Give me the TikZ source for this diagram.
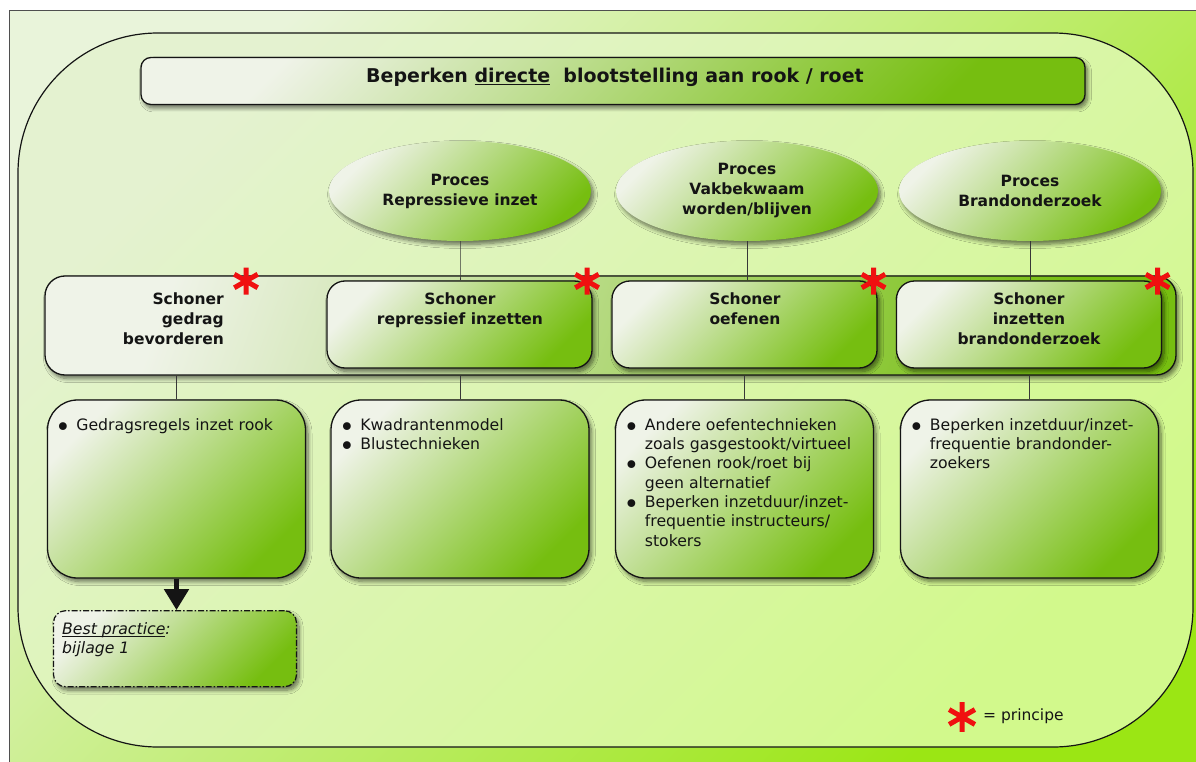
\documentclass[tikz,border=0pt]{standalone}
\usepackage{fontspec}
\setmainfont{DejaVu Sans}
\usetikzlibrary{shapes.geometric,shadows,shadows.blur,arrows.meta}
\definecolor{outerTL}{HTML}{E9F4DA}
\definecolor{outerBR}{HTML}{9BE614}
\definecolor{innerTL}{HTML}{E4F2D0}
\definecolor{innerBR}{HTML}{D2F98C}
\definecolor{boxTL}{HTML}{EFF3E8}
\definecolor{boxBR}{HTML}{76BE10}
\definecolor{ink}{HTML}{141414}
\definecolor{starred}{HTML}{F01010}
\newcommand\boldtxt{\fontsize{15.5}{20}\selectfont\bfseries}
\newcommand\bodytxt{\fontsize{15.7}{19.3}\selectfont}
\newcommand\bulmark{\smash{\raisebox{-6pt}{\scalebox{1.7}{\textbullet}}}}
\newcommand\ulpiece[1]{\setbox0=\hbox{#1}\rlap{\rule[-2.6pt]{\wd0}{0.8pt}}\box0}
\tikzset{
  boxgrad/.style={top color=boxTL, bottom color=boxBR, shading angle=45},
  boxshadow/.style={blur shadow={shadow xshift=2.5pt, shadow yshift=-3.5pt, shadow blur radius=4pt, shadow blur steps=8, shadow opacity=55}},
  boxedge/.style={draw=ink, line width=1.3pt},
  titlebox/.style={boxgrad, boxshadow, boxedge, rounded corners=10pt, minimum width=944pt, minimum height=47pt, inner sep=0pt},
  titletext/.style={font=\fontsize{19}{23}\selectfont\bfseries, text=ink, inner sep=0pt, anchor=base},
  procell/.style={ellipse, boxgrad, boxshadow, minimum width=262pt, minimum height=100pt, inner sep=0pt, align=center, font=\boldtxt, text=ink},
  bandbox/.style={boxgrad, shading angle=70, boxshadow, boxedge, rounded corners=20pt, minimum width=1131pt, minimum height=99pt, inner sep=0pt},
  schbox/.style={boxgrad, boxshadow, boxedge, rounded corners=18pt, minimum width=265pt, minimum height=87pt, inner sep=0pt},
  contentbox/.style={boxgrad, boxshadow, boxedge, rounded corners=30pt, minimum width=258pt, minimum height=178pt, inner sep=0pt},
  bpbox/.style={boxgrad, boxshadow, draw=ink, line width=1.2pt, dash pattern=on 6pt off 2pt on 1.5pt off 2pt, rounded corners=12pt, minimum width=243pt, minimum height=76pt, inner sep=0pt},
  boldlabel/.style={font=\boldtxt, text=ink, inner sep=0pt},
  listlabel/.style={font=\bodytxt, text=ink, inner sep=0pt, anchor=north west},
  link/.style={draw=ink!85, line width=0.9pt},
  principestar/.pic={\draw[starred, line width=5pt] (0,-13.5)--(0,13.5) (-11.7,-6.75)--(11.7,6.75) (-11.7,6.75)--(11.7,-6.75);}
}
\begin{document}
\begin{tikzpicture}[x=1pt,y=-1pt]
\useasboundingbox (0,0) rectangle (1196,762);
\fill[white] (0,0) rectangle (1196,762);
\shade[top color=outerTL, bottom color=outerBR, shading angle=45] (9,11) rectangle (1196,762);
\draw[ink!75, line width=1pt] (9,762) -- (9,11) -- (1196,11);
\shadedraw[top color=innerTL, bottom color=innerBR, shading angle=45, draw=ink, line width=1.2pt, rounded corners=140pt] (18,33) rectangle (1193,747);

\node[titlebox] (title) at (613,81) {};
\node[titletext] (titletxt) at (615,82.7) {Beperken \ulpiece{directe}\ \ blootstelling aan rook / roet};

\node[procell] (p1) at (460,191) {Proces\\Repressieve inzet};
\node[procell] (p2) at (747,191) {Proces\\Vakbekwaam\\worden/blijven};
\node[procell] (p3) at (1030,191) {Proces\\Brandonderzoek};

\node[bandbox] (band) at (610.5,325.5) {};
\draw[link] (p1.south) -- (p1.south |- band.north) -- ++(0,5);
\draw[link] (p2.south) -- (p2.south |- band.north) -- ++(0,5);
\draw[link] (p3.south) -- (p3.south |- band.north) -- ++(0,5);
\node[schbox] (s2) at (459.5,324.5) {};
\node[schbox] (s3) at (744.5,324.5) {};
\node[schbox] (s4) at (1029,324.5) {};

\node[boldlabel, anchor=north east, align=right] (t1) at (224,293) {Schoner\\gedrag\\bevorderen};
\node[boldlabel, anchor=north, align=center] (t2) at (460,293) {Schoner\\repressief inzetten};
\node[boldlabel, anchor=north, align=center] (t3) at (745,293) {Schoner\\oefenen};
\node[boldlabel, anchor=north, align=center] (t4) at (1029,293) {Schoner\\inzetten\\brandonderzoek};

\node[contentbox] (c1) at (176.5,489) {};
\node[contentbox] (c2) at (460,489) {};
\node[contentbox] (c3) at (744.5,489) {};
\node[contentbox] (c4) at (1029.5,489) {};
\draw[link] (c1.north |- band.south) -- (c1.north);
\draw[link] (c2.north |- band.south) -- (c2.north);
\draw[link] (c3.north |- band.south) -- (c3.north);
\draw[link] (c4.north |- band.south) -- (c4.north);

\node[listlabel] (l1) at (55,416.5) {\begin{tabular}{@{}l@{\hspace{5.4pt}}l@{}}\bulmark & Gedragsregels inzet rook\end{tabular}};
\node[listlabel] (l2) at (339,416.5) {\begin{tabular}{@{}l@{\hspace{5.4pt}}l@{}}\bulmark & Kwadrantenmodel\\ \bulmark & Blustechnieken\end{tabular}};
\node[listlabel] (l3) at (623.5,416.5) {\begin{tabular}{@{}l@{\hspace{5.4pt}}l@{}}\bulmark & Andere oefentechnieken\\ & zoals gasgestookt/virtueel\\ \bulmark & Oefenen rook/roet bij\\ & geen alternatief\\ \bulmark & Beperken inzetduur/inzet-\\ & frequentie instructeurs/\\ & stokers\end{tabular}};
\node[listlabel] (l4) at (908.5,416.5) {\begin{tabular}{@{}l@{\hspace{5.4pt}}l@{}}\bulmark & Beperken inzetduur/inzet-\\ & frequentie brandonder-\\ & zoekers\end{tabular}};

\node[bpbox] (bp) at (175,648.7) {};
\draw[ink, line width=5pt, -{Triangle[width=24pt,length=21pt]}] (c1.south) -- (c1.south |- bp.north);
\node[listlabel, font=\bodytxt\itshape] (bpt) at (62,620.5) {\begin{tabular}{@{}l@{}}\ulpiece{Best practice}:\\ bijlage 1\end{tabular}};

\pic at (246,281) {principestar};
\pic at (587,281) {principestar};
\pic at (873.5,281) {principestar};
\pic at (1157.5,281) {principestar};
\pic[scale=1.1] at (962,717) {principestar};
\node[font=\fontsize{15.5}{19}\selectfont, text=ink, anchor=west, inner sep=0pt] (legend) at (983,716) {= principe};
\end{tikzpicture}
\end{document}
